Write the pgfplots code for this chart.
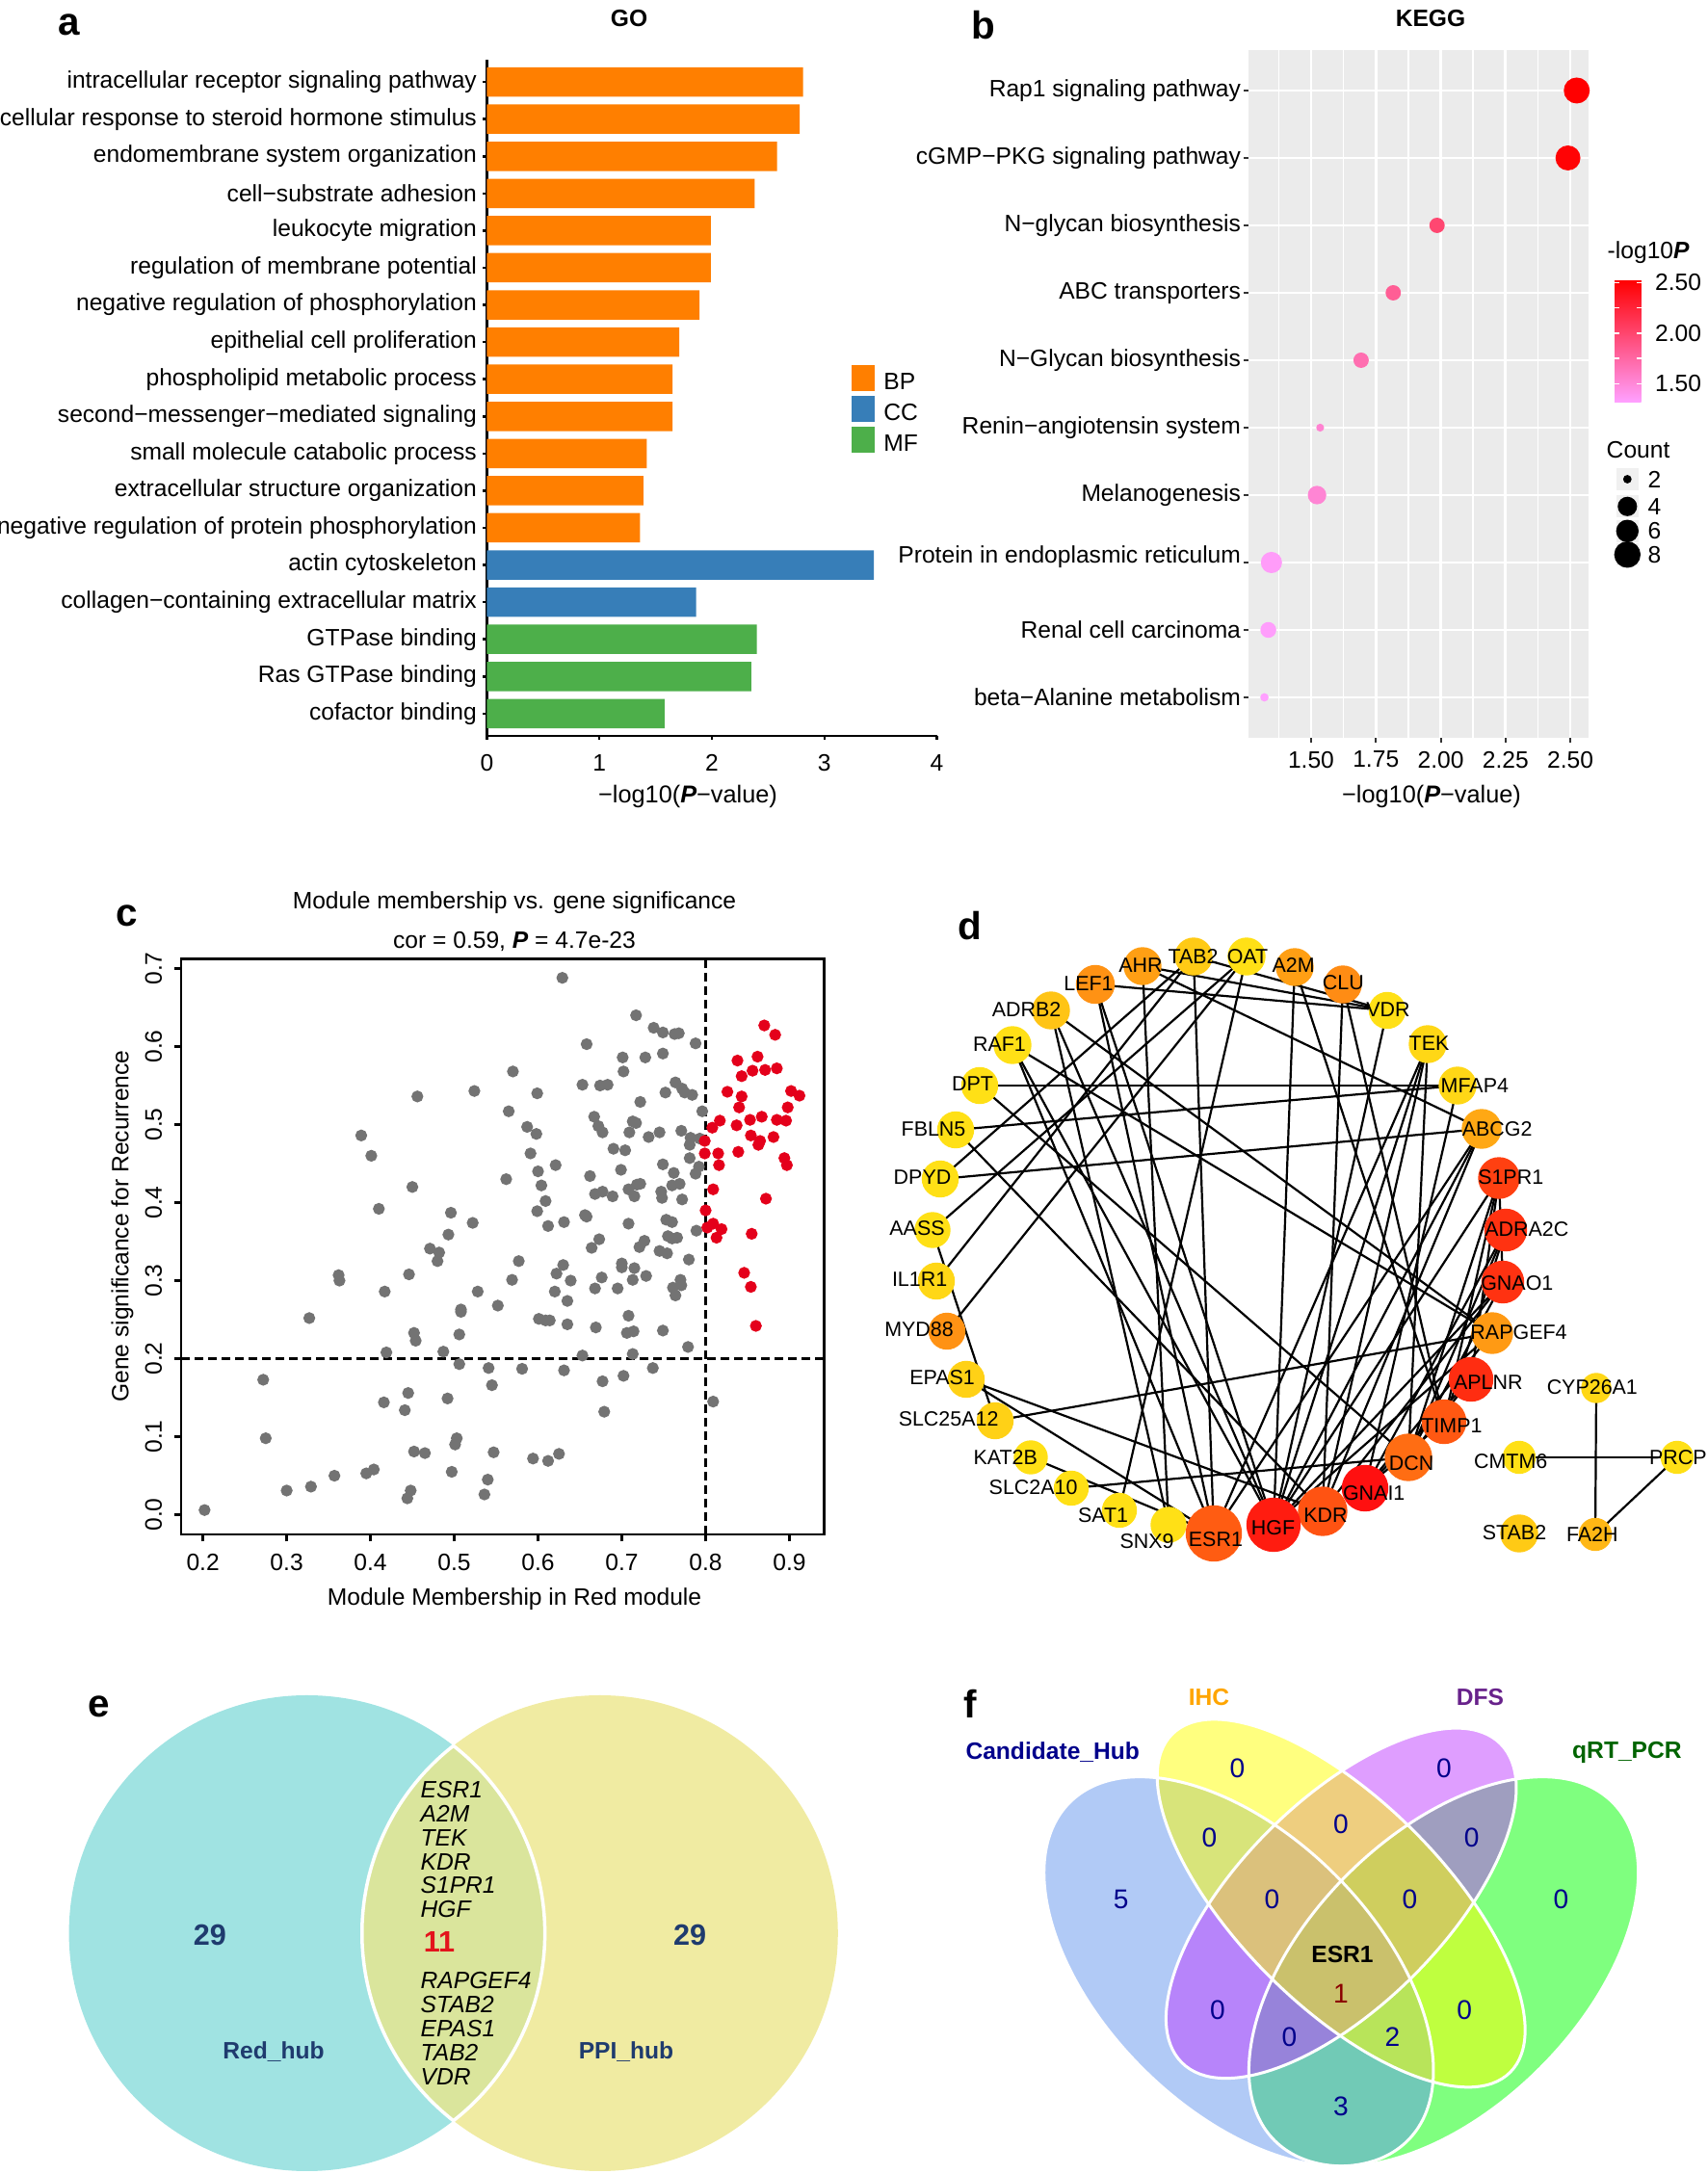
\documentclass[border=0pt]{standalone}
\usepackage{fontspec}
\setmainfont{Liberation Sans}
\usepackage{pgfplots}
\pgfplotsset{compat=1.18}
\pgfplotsset{/pgf/number format/assume math mode=true}
\newcommand\fs[1]{\fontsize{#1pt}{#1pt}\selectfont}
\definecolor{cBP}{HTML}{FF7F00}
\definecolor{cCC}{HTML}{377EB8}
\definecolor{cMF}{HTML}{4DAF4A}
\definecolor{ggbg}{HTML}{EBEBEB}
\definecolor{cgray}{HTML}{737373}
\definecolor{cred}{HTML}{E4001B}
\definecolor{eL}{HTML}{A0E3E2}
\definecolor{eR}{HTML}{F0EBA2}
\definecolor{eO}{HTML}{DAE59C}
\definecolor{eNavy}{HTML}{1F3B6E}
\definecolor{eRed}{HTML}{E3141C}
\definecolor{vBlue}{RGB}{100,149,237}
\definecolor{vYel}{RGB}{255,255,0}
\definecolor{vPur}{RGB}{191,62,255}
\definecolor{vGrn}{RGB}{0,255,0}
\definecolor{fNavy}{RGB}{0,0,139}
\definecolor{fOrange}{RGB}{255,165,0}
\definecolor{fPurple}{RGB}{104,34,139}
\definecolor{fGreen}{RGB}{0,100,0}
\definecolor{fDRed}{RGB}{139,0,0}
\pgfplotsset{sqlegend/.style={legend image code/.code={\fill[##1] (0mm,-0.72mm) rectangle (2.4mm,1.98mm);}}}
\pgfplotsset{edge/.style={black, line width=0.22mm, no markers}}
\begin{document}
\begin{tikzpicture}
\path[use as bounding box] (0,0) rectangle (177.3mm,225.7mm);

% ---------------- panel a ----------------
\begin{axis}[
  at={(50.55mm,149.3mm)}, anchor=south west,
  scale only axis, width=46.7mm, height=70.2mm,
  xmin=0, xmax=4, ymin=0.4, ymax=18.6,
  axis x line*=bottom, axis y line*=left,
  axis line style={line width=0.25mm,-},
  tick pos=left,
  tick style={black, line width=0.25mm}, tick align=outside, major tick length=0.4mm,
  xtick={0,1,2,3,4},
  ytick={1,...,18},
  yticklabels={cofactor binding, Ras GTPase binding, GTPase binding, collagen−containing extracellular matrix, actin cytoskeleton, negative regulation of protein phosphorylation, extracellular structure organization, small molecule catabolic process, second−messenger−mediated signaling, phospholipid metabolic process, epithelial cell proliferation, negative regulation of phosphorylation, regulation of membrane potential, leukocyte migration, cell−substrate adhesion, endomembrane system organization, cellular response to steroid hormone stimulus, intracellular receptor signaling pathway},
  ticklabel style={font=\fs{7}},
  xticklabel style={yshift=-0.3mm},
  yticklabel style={xshift=0.58mm},
  clip=false,
  legend style={at={(0.8084,0.550)}, anchor=north west, draw=none, fill=none, inner sep=0pt, row sep=0.13mm, font=\fs{7}, nodes={inner sep=0pt}, /tikz/every odd column/.append style={column sep=0.97mm}},
  legend cell align=left,
]
\addplot[xbar, bar width=0.79, bar shift=0pt, fill=cBP, draw=none, sqlegend] coordinates {(1.36,6) (1.39,7) (1.42,8) (1.65,9) (1.65,10) (1.71,11) (1.89,12) (1.99,13) (1.99,14) (2.38,15) (2.58,16) (2.78,17) (2.81,18)};
\addlegendentry{BP}
\addplot[xbar, bar width=0.79, bar shift=0pt, fill=cCC, draw=none, sqlegend] coordinates {(1.86,4) (3.44,5)};
\addlegendentry{CC}
\addplot[xbar, bar width=0.79, bar shift=0pt, fill=cMF, draw=none, sqlegend] coordinates {(1.58,1) (2.35,2) (2.40,3)};
\addlegendentry{MF}
\end{axis}

% ---------------- panel b ----------------
\begin{axis}[
  at={(129.64mm,149.1mm)}, anchor=south west,
  scale only axis, width=35.3mm, height=71.4mm,
  xmin=1.26, xmax=2.572, ymin=0.4, ymax=10.6,
  axis background/.style={fill=ggbg},
  axis line style={draw=none},
  tick pos=left, tick align=outside, major tick length=0.5mm, minor tick length=0pt,
  tick style={black!80, line width=0.2mm},
  xtick={1.5,1.75,2,2.25,2.5}, xticklabels={1.50,1.75,2.00,2.25,2.50},
  minor xtick={1.375,1.625,1.875,2.125,2.375},
  ytick={1,...,10},
  yticklabels={beta−Alanine metabolism, Renal cell carcinoma, \raisebox{1.7mm}{Protein in endoplasmic reticulum}, Melanogenesis, Renin−angiotensin system, N−Glycan biosynthesis, ABC transporters, N−glycan biosynthesis, cGMP−PKG signaling pathway, Rap1 signaling pathway},
  xmajorgrids, ymajorgrids, xminorgrids,
  major grid style={white, line width=0.28mm},
  minor grid style={white, line width=0.14mm},
  ticklabel style={font=\fs{7}},
  xticklabel style={yshift=0.35mm},
  yticklabel style={xshift=0.9mm},
  colormap={kegg}{rgb255=(255,160,255) rgb255=(255,0,0)},
  point meta min=1.32, point meta max=2.525,
  colorbar,
  colorbar style={
    at={(parent axis.north east)}, anchor=north west, xshift=-0.34mm, yshift=-23.87mm,
    scale only axis, width=2.77mm, height=12.65mm,
    ytick={1.5,2,2.5}, yticklabels={1.50,2.00,2.50},
    minor ytick={1.75,2.25},
    tick align=inside, major tick length=0.5mm, minor tick length=0.5mm,
    tick style={white, line width=0.15mm},
    ytick pos=both, yticklabel pos=right,
    axis line style={draw=none},
    yticklabel style={font=\fs{7}, xshift=0.2mm},
  },
  clip=false,
]
\addplot[scatter, only marks, mark=*, point meta=\thisrow{p},
  scatter/use mapped color={draw=mapped color, fill=mapped color},
  visualization depends on={\thisrow{d}\as\dia},
  scatter/@pre marker code/.append style={/tikz/mark size=\dia*0.05mm}]
  table[x=p, y=y] {
y p count d
1 1.320 2 7.2
2 1.335 3 15.0
3 1.347 5 20.6
4 1.523 4 17.8
5 1.535 2 6.7
6 1.693 3 14.5
7 1.817 3 14.5
8 1.986 3 14.5
9 2.491 7 24.5
10 2.525 8 25.6
};
\end{axis}

% count legend (mini axis)
\begin{axis}[
  at={(166mm,165.7mm)}, anchor=south west,
  scale only axis, width=10mm, height=15mm,
  xmin=1660, xmax=1760, ymin=450, ymax=600, y dir=reverse, hide axis, clip=false]
\addplot[only marks, mark=square*, mark size=1.1mm, color=black!6] coordinates {(1689.3,497.5) (1689.3,525.8) (1689.3,551.3) (1689.3,575.8)};
\addplot[only marks, mark=*, black,
  scatter, scatter/use mapped color={draw=black, fill=black},
  visualization depends on={\thisrow{d}\as\dia},
  scatter/@pre marker code/.append style={/tikz/mark size=\dia*0.05mm}]
  table[x=x, y=y] {
x y count d
1689.3 497.5 2 7.3
1689.3 525.8 4 18.7
1689.3 551.3 6 22
1689.3 575.8 8 26
};
\end{axis}

% ---------------- panel c ----------------
\begin{axis}[
  at={(18.8mm,66.4mm)}, anchor=south west,
  scale only axis, width=66.77mm, height=59.75mm,
  xmin=0.174, xmax=0.9417, ymin=-0.0252, ymax=0.7123,
  xtick={0.2,0.3,0.4,0.5,0.6,0.7,0.8,0.9}, xticklabels={0.2,0.3,0.4,0.5,0.6,0.7,0.8,0.9},
  ytick={0,0.1,0.2,0.3,0.4,0.5,0.6,0.7}, yticklabels={0.0,0.1,0.2,0.3,0.4,0.5,0.6,0.7},
  tick pos=left, tick align=outside, major tick length=0.75mm,
  tick style={black, line width=0.25mm},
  axis line style={line width=0.25mm},
  ticklabel style={font=\fs{7}},
  yticklabel style={rotate=90, anchor=south},
]
\addplot[no markers, black, line width=0.25mm, dash pattern=on 0.9mm off 0.5mm] coordinates {(0.8,-0.0252) (0.8,0.7123)};
\addplot[no markers, black, line width=0.25mm, dash pattern=on 0.9mm off 0.5mm] coordinates {(0.174,0.2) (0.9417,0.2)};
\addplot[only marks, mark=*, mark size=1.55pt, cgray, mark options={draw=cgray, fill=cgray}] table {
x y
0.629 0.688
0.717 0.640
0.738 0.624
0.749 0.618
0.763 0.616
0.768 0.617
0.788 0.604
0.658 0.603
0.749 0.591
0.701 0.586
0.728 0.586
0.702 0.568
0.570 0.568
0.653 0.551
0.674 0.550
0.683 0.551
0.764 0.554
0.772 0.546
0.775 0.541
0.784 0.538
0.752 0.541
0.524 0.543
0.456 0.536
0.599 0.540
0.722 0.529
0.565 0.517
0.796 0.517
0.667 0.510
0.713 0.504
0.717 0.502
0.672 0.498
0.587 0.497
0.677 0.490
0.598 0.488
0.709 0.490
0.745 0.490
0.771 0.492
0.732 0.484
0.782 0.483
0.793 0.482
0.389 0.486
0.690 0.469
0.704 0.467
0.781 0.474
0.591 0.463
0.401 0.460
0.781 0.457
0.792 0.446
0.749 0.449
0.621 0.448
0.699 0.442
0.600 0.440
0.762 0.438
0.788 0.437
0.662 0.434
0.562 0.430
0.450 0.420
0.604 0.422
0.718 0.423
0.722 0.424
0.769 0.424
0.760 0.422
0.708 0.417
0.747 0.414
0.677 0.414
0.668 0.411
0.689 0.408
0.715 0.408
0.748 0.406
0.609 0.402
0.772 0.404
0.410 0.392
0.599 0.389
0.496 0.387
0.656 0.384
0.658 0.382
0.522 0.374
0.631 0.375
0.708 0.373
0.753 0.378
0.760 0.375
0.612 0.370
0.789 0.364
0.493 0.359
0.755 0.357
0.760 0.354
0.766 0.355
0.673 0.353
0.727 0.351
0.721 0.343
0.664 0.342
0.471 0.341
0.482 0.336
0.745 0.338
0.754 0.335
0.480 0.325
0.577 0.325
0.780 0.327
0.630 0.320
0.700 0.322
0.700 0.317
0.715 0.316
0.446 0.308
0.362 0.307
0.622 0.309
0.729 0.306
0.363 0.300
0.569 0.301
0.639 0.300
0.713 0.301
0.676 0.304
0.770 0.301
0.771 0.294
0.761 0.291
0.668 0.290
0.695 0.290
0.417 0.286
0.528 0.286
0.620 0.286
0.764 0.281
0.635 0.274
0.552 0.268
0.508 0.263
0.508 0.260
0.708 0.255
0.327 0.252
0.601 0.251
0.609 0.249
0.614 0.249
0.635 0.244
0.669 0.240
0.706 0.233
0.714 0.235
0.749 0.236
0.452 0.233
0.506 0.231
0.454 0.223
0.779 0.215
0.419 0.208
0.487 0.209
0.653 0.204
0.713 0.206
0.506 0.193
0.541 0.188
0.581 0.187
0.631 0.185
0.737 0.188
0.702 0.178
0.272 0.173
0.677 0.171
0.545 0.166
0.445 0.156
0.492 0.149
0.416 0.144
0.809 0.145
0.441 0.134
0.679 0.132
0.275 0.098
0.503 0.098
0.501 0.090
0.452 0.081
0.465 0.079
0.547 0.080
0.625 0.078
0.594 0.072
0.612 0.069
0.404 0.058
0.395 0.053
0.497 0.055
0.357 0.050
0.540 0.045
0.329 0.036
0.300 0.031
0.448 0.031
0.444 0.021
0.536 0.026
0.202 0.006
};
\addplot[only marks, mark=*, mark size=1.55pt, cred, mark options={draw=cred, fill=cred}] table {
x y
0.870 0.627
0.883 0.615
0.862 0.587
0.838 0.582
0.856 0.569
0.871 0.570
0.885 0.572
0.843 0.562
0.826 0.542
0.902 0.543
0.912 0.537
0.843 0.536
0.840 0.522
0.898 0.522
0.817 0.505
0.853 0.506
0.867 0.510
0.885 0.506
0.896 0.505
0.837 0.499
0.808 0.496
0.854 0.486
0.881 0.484
0.865 0.479
0.863 0.474
0.799 0.479
0.799 0.463
0.815 0.463
0.839 0.465
0.894 0.457
0.897 0.448
0.816 0.448
0.809 0.417
0.872 0.405
0.800 0.390
0.809 0.373
0.819 0.366
0.802 0.368
0.813 0.355
0.855 0.360
0.846 0.310
0.854 0.292
0.860 0.242
};
\end{axis}

% ---------------- panel d ----------------
\begin{axis}[
  at={(90mm,61.7mm)}, anchor=south west,
  scale only axis, width=87.3mm, height=70mm,
  xmin=900, xmax=1773, ymin=940, ymax=1640, y dir=reverse, hide axis, clip=false,
  colormap={net}{rgb255(0cm)=(255,224,22) rgb255(4cm)=(255,150,20) rgb255(7cm)=(255,88,18) rgb255(10cm)=(255,16,16)},
  point meta min=0, point meta max=1,
]
\addplot[edge] coordinates {(1186,1003) (1440,1049)};
\addplot[edge] coordinates {(1137,1022) (1440,1049)};
\addplot[edge] coordinates {(1239,993) (1440,1049)};
\addplot[edge] coordinates {(1186,1003) (1538,1172)};
\addplot[edge] coordinates {(1239,993) (976,1224)};
\addplot[edge] coordinates {(1239,993) (972,1330)};
\addplot[edge] coordinates {(1294,993) (968,1277)};
\addplot[edge] coordinates {(1294,993) (983,1382)};
\addplot[edge] coordinates {(1294,993) (1162,1568)};
\addplot[edge] coordinates {(1239,993) (1260,1592)};
\addplot[edge] coordinates {(1186,1003) (1213,1583)};
\addplot[edge] coordinates {(1137,1022) (1260,1592)};
\addplot[edge] coordinates {(1137,1022) (1322,1583)};
\addplot[edge] coordinates {(1344,1004) (1322,1583)};
\addplot[edge] coordinates {(1344,1004) (1499,1476)};
\addplot[edge] coordinates {(1394,1022) (1373,1569)};
\addplot[edge] coordinates {(1394,1022) (1499,1476)};
\addplot[edge] coordinates {(1440,1049) (1322,1583)};
\addplot[edge] coordinates {(1482,1084) (1260,1592)};
\addplot[edge] coordinates {(1482,1084) (1322,1583)};
\addplot[edge] coordinates {(1482,1084) (1373,1569)};
\addplot[edge] coordinates {(1091,1049) (1549,1384)};
\addplot[edge] coordinates {(1091,1049) (1213,1583)};
\addplot[edge] coordinates {(1091,1049) (1322,1583)};
\addplot[edge] coordinates {(1051,1085) (1549,1384)};
\addplot[edge] coordinates {(1051,1085) (1260,1592)};
\addplot[edge] coordinates {(1051,1085) (1322,1583)};
\addplot[edge] coordinates {(1017,1127) (1513,1127)};
\addplot[edge] coordinates {(1017,1127) (1462,1513)};
\addplot[edge] coordinates {(992,1173) (1513,1127)};
\addplot[edge] coordinates {(992,1173) (1373,1569)};
\addplot[edge] coordinates {(976,1224) (1538,1172)};
\addplot[edge] coordinates {(968,1277) (1033,1475)};
\addplot[edge] coordinates {(1033,1475) (1549,1384)};
\addplot[edge] coordinates {(1003,1432) (1260,1592)};
\addplot[edge] coordinates {(1003,1432) (1373,1569)};
\addplot[edge] coordinates {(1070,1513) (1260,1592)};
\addplot[edge] coordinates {(1112,1545) (1462,1513)};
\addplot[edge] coordinates {(1538,1172) (1322,1583)};
\addplot[edge] coordinates {(1538,1172) (1260,1592)};
\addplot[edge] coordinates {(1538,1172) (1373,1569)};
\addplot[edge] coordinates {(1556,1223) (1322,1583)};
\addplot[edge] coordinates {(1556,1223) (1462,1513)};
\addplot[edge] coordinates {(1556,1223) (1560,1331)};
\addplot[edge] coordinates {(1556,1223) (1527,1432)};
\addplot[edge] coordinates {(1556,1223) (1499,1476)};
\addplot[edge] coordinates {(1563,1277) (1417,1545)};
\addplot[edge] coordinates {(1563,1277) (1499,1476)};
\addplot[edge] coordinates {(1563,1277) (1462,1513)};
\addplot[edge] coordinates {(1560,1331) (1322,1583)};
\addplot[edge] coordinates {(1560,1331) (1462,1513)};
\addplot[edge] coordinates {(1560,1331) (1373,1569)};
\addplot[edge] coordinates {(1549,1384) (1417,1545)};
\addplot[edge] coordinates {(1549,1384) (1322,1583)};
\addplot[edge] coordinates {(1527,1432) (1462,1513)};
\addplot[edge] coordinates {(1527,1432) (1417,1545)};
\addplot[edge] coordinates {(1499,1476) (1417,1545)};
\addplot[edge] coordinates {(1513,1127) (1417,1545)};
\addplot[edge] coordinates {(1482,1084) (1462,1513)};
\addplot[edge] coordinates {(1657,1441) (1656,1593)};
\addplot[edge] coordinates {(1577,1513) (1741,1513)};
\addplot[edge] coordinates {(1741,1513) (1656,1593)};
\addplot[scatter, only marks, mark=*, point meta=\thisrow{c},
  scatter/use mapped color={draw=mapped color, fill=mapped color},
  visualization depends on={\thisrow{d}\as\dia},
  scatter/@pre marker code/.append style={/tikz/mark size=\dia*0.05mm}]
  table[x=x, y=y] {
x y d c
1239 993 38 0.12
1294 993 38 0.0
1186 1003 38 0.35
1344 1004 38 0.35
1137 1022 39 0.42
1394 1022 38 0.45
1091 1049 38 0.15
1440 1049 37 0.0
1051 1085 38 0.0
1482 1084 38 0.05
1017 1127 37 0.0
1513 1127 38 0.05
992 1173 37 0.0
1538 1172 40 0.3
976 1224 37 0.0
1556 1223 42 0.8
968 1277 36 0.0
1563 1277 43 0.86
972 1330 37 0.05
1560 1331 43 0.86
983 1382 37 0.42
1549 1384 42 0.38
1003 1432 37 0.08
1527 1432 45 0.88
1033 1475 37 0.08
1499 1476 45 0.7
1070 1513 34 0.0
1462 1513 48 0.6
1112 1545 35 0.0
1417 1545 47 1.0
1162 1568 35 0.0
1373 1569 50 0.72
1213 1583 36 0.0
1260 1592 57 0.68
1322 1583 55 0.95
1657 1441 30 0.05
1577 1513 33 0.0
1741 1513 33 0.0
1577 1592 38 0.12
1656 1593 33 0.22
};
\end{axis}

% ---------------- panel e ----------------
\begin{axis}[
  at={(0mm,0mm)}, anchor=south west,
  scale only axis, width=90mm, height=55.7mm,
  xmin=0, xmax=900, ymin=0, ymax=557, hide axis, clip=false]
\fill[eL] (axis cs:318.6,250) circle[radius=24.7mm];
\fill[eR] (axis cs:622.8,250) circle[radius=24.7mm];
\fill[eO] (axis cs:470.7,444.6) arc[start angle=128, end angle=232, radius=24.7mm] arc[start angle=-52, end angle=52, radius=24.7mm] -- cycle;
\draw[white, line width=0.35mm] (axis cs:470.7,444.6) arc[start angle=128, end angle=232, radius=24.7mm] arc[start angle=-52, end angle=52, radius=24.7mm] -- cycle;
\end{axis}

% ---------------- panel f ----------------
\begin{axis}[
  at={(103.77mm,-1.665mm)}, anchor=south west,
  scale only axis, width=70.9mm, height=56.72mm,
  xmin=0, xmax=1, ymin=0.15, ymax=0.95, hide axis, clip=false]
\fill[vGrn, fill opacity=0.5, rotate around={45:(axis cs:0.65,0.47)}] (axis cs:0.65,0.47) ellipse[x radius=24.815mm, y radius=14.18mm];
\fill[vBlue, fill opacity=0.5, rotate around={135:(axis cs:0.35,0.47)}] (axis cs:0.35,0.47) ellipse[x radius=24.815mm, y radius=14.18mm];
\fill[vPur, fill opacity=0.5, rotate around={45:(axis cs:0.5,0.57)}] (axis cs:0.5,0.57) ellipse[x radius=23.397mm, y radius=10.635mm];
\fill[vYel, fill opacity=0.5, rotate around={135:(axis cs:0.5,0.57)}] (axis cs:0.5,0.57) ellipse[x radius=24.815mm, y radius=10.635mm];
\draw[white, line width=0.3mm, rotate around={45:(axis cs:0.65,0.47)}] (axis cs:0.65,0.47) ellipse[x radius=24.815mm, y radius=14.18mm];
\draw[white, line width=0.3mm, rotate around={135:(axis cs:0.35,0.47)}] (axis cs:0.35,0.47) ellipse[x radius=24.815mm, y radius=14.18mm];
\draw[white, line width=0.3mm, rotate around={45:(axis cs:0.5,0.57)}] (axis cs:0.5,0.57) ellipse[x radius=23.397mm, y radius=10.635mm];
\draw[white, line width=0.3mm, rotate around={135:(axis cs:0.5,0.57)}] (axis cs:0.5,0.57) ellipse[x radius=24.815mm, y radius=10.635mm];
\end{axis}

% ---------------- free text (full-res pixel coordinates) ----------------
\begin{scope}[x=0.1mm, y=-0.1mm, yshift=225.7mm]
% a
\node[font=\bfseries\fs{11.5}] at (72,26) {a};
\node[font=\bfseries\fs{7}] at (653,19) {GO};
\node[font=\fs{7.2}] at (714,826.6) {−log10(\textbf{\textit{P}}−value)};
% b
\node[font=\bfseries\fs{11.5}] at (1021,26) {b};
\node[font=\bfseries\fs{7}] at (1485,19) {KEGG};
\node[font=\fs{7.2}] at (1486,826.6) {−log10(\textbf{\textit{P}}−value)};
\node[font=\fs{7}, anchor=west, inner sep=0pt] at (1668,262) {-log10\textbf{\textit{P}}};
\node[font=\fs{7}, anchor=west, inner sep=0pt] at (1667,467) {Count};
\node[font=\fs{7}, anchor=west, inner sep=0pt] at (1710,497.5) {2};
\node[font=\fs{7}, anchor=west, inner sep=0pt] at (1710,525.8) {4};
\node[font=\fs{7}, anchor=west, inner sep=0pt] at (1710,551.3) {6};
\node[font=\fs{7}, anchor=west, inner sep=0pt] at (1710,575.8) {8};
% c
\node[font=\bfseries\fs{11.5}] at (132,951) {c};
\node[font=\fs{7}] at (534,937) {Module membership vs. gene significance};
\node[font=\fs{7}] at (534,977) {cor = 0.59, \textbf{\textit{P}} = 4.7e-23};
\node[font=\fs{7}] at (534,1660) {Module Membership in Red module};
\node[font=\fs{7}, rotate=90] at (127,1273) {Gene significance for Recurrence};
% d
\node[font=\bfseries\fs{11.5}] at (1007,961) {d};
\begin{scope}[every node/.style={font=\fs{6.1}, inner sep=0pt}]
\node at (1238.5,993) {TAB2};
\node at (1295,993) {OAT};
\node at (1184,1002) {AHR};
\node at (1342.7,1002) {A2M};
\node at (1130,1021.5) {LEF1};
\node at (1394.4,1020.5) {CLU};
\node at (1065.5,1048.5) {ADRB2};
\node at (1441,1048.5) {VDR};
\node at (1037.5,1084) {RAF1};
\node at (1483.5,1083) {TEK};
\node at (1009.5,1125.5) {DPT};
\node at (1530.8,1127.5) {MFAP4};
\node at (969,1172) {FBLN5};
\node at (1554.2,1172) {ABCG2};
\node at (957.5,1222) {DPYD};
\node at (1568.2,1222.6) {S1PR1};
\node at (952,1275) {AASS};
\node at (1584.8,1275.7) {ADRA2C};
\node at (954.6,1328.4) {IL1R1};
\node at (1574.8,1332) {GNAO1};
\node at (954,1380.6) {MYD88};
\node at (1576.5,1383.3) {RAPGEF4};
\node at (978,1430) {EPAS1};
\node at (1544.8,1435.5) {APLNR};
\node at (984.6,1473.5) {SLC25A12};
\node at (1506.9,1480.2) {TIMP1};
\node at (1043.7,1512.8) {KAT2B};
\node at (1465.1,1519) {DCN};
\node at (1072.6,1544) {SLC2A10};
\node at (1426.2,1550.3) {GNAI1};
\node at (1145,1573) {SAT1};
\node at (1376,1573) {KDR};
\node at (1190.6,1599.8) {SNX9};
\node at (1261.9,1598.5) {ESR1};
\node at (1321.5,1586.4) {HGF};
\node at (1652.8,1440) {CYP26A1};
\node at (1568.2,1517.2) {CMTM6};
\node at (1741.9,1512.8) {PRCP};
\node at (1572,1590.9) {STAB2};
\node at (1652.8,1592.7) {FA2H};
\end{scope}
% e
\node[font=\bfseries\fs{11.5}] at (103,1772) {e};
\node[font=\bfseries\fs{8.7}, text=eNavy] at (218,2009) {29};
\node[font=\bfseries\fs{8.7}, text=eNavy] at (716,2009) {29};
\node[font=\bfseries\fs{8.7}, text=eRed] at (456,2016) {11};
\node[font=\bfseries\fs{7}, text=eNavy] at (284,2130.5) {Red\_hub};
\node[font=\bfseries\fs{7}, text=eNavy] at (650,2130) {PPI\_hub};
\foreach \g/\yy in {ESR1/1858, A2M/1883, TEK/1908, KDR/1933, S1PR1/1957.5, HGF/1982, RAPGEF4/2056, STAB2/2081, EPAS1/2106, TAB2/2131, VDR/2156}
  \node[font=\itshape\fs{7}, anchor=west, inner sep=0pt] at (436,\yy) {\g};
% f
\node[font=\bfseries\fs{11.5}] at (1007,1769) {f};
\node[font=\bfseries\fs{7}, text=fNavy] at (1092.7,1819) {Candidate\_Hub};
\node[font=\bfseries\fs{7}, text=fOrange] at (1255,1762) {IHC};
\node[font=\bfseries\fs{7}, text=fPurple] at (1536.5,1762) {DFS};
\node[font=\bfseries\fs{7}, text=fGreen] at (1688.9,1819) {qRT\_PCR};
\begin{scope}[every node/.style={font=\fs{8}, text=fNavy}]
\node at (1284.5,1836) {0};
\node at (1499,1836) {0};
\node at (1255.4,1907.8) {0};
\node at (1392,1893.6) {0};
\node at (1527.6,1907.8) {0};
\node at (1163.7,1971.8) {5};
\node at (1320.5,1971.8) {0};
\node at (1463.5,1971.8) {0};
\node at (1620.3,1971.8) {0};
\node at (1263.8,2086.5) {0};
\node at (1520.2,2086.5) {0};
\node at (1338.3,2115) {0};
\node at (1445.3,2115) {2};
\node at (1392,2186.7) {3};
\end{scope}
\node[font=\bfseries\fs{7}] at (1393.5,2028.6) {ESR1};
\node[font=\fs{8}, text=fDRed] at (1392,2069.4) {1};
\end{scope}
\end{tikzpicture}
\end{document}
